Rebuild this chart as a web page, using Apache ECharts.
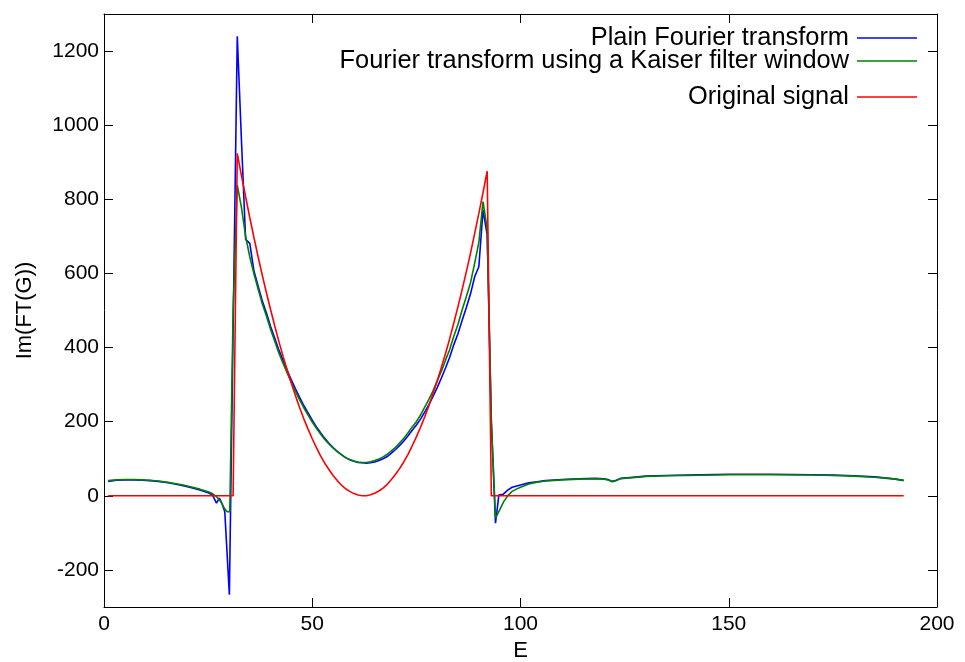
<!DOCTYPE html>
<html>
<head>
<meta charset="utf-8">
<script src="https://cdn.jsdelivr.net/npm/echarts@6/dist/echarts.min.js"></script>
<style>html,body{margin:0;padding:0;background:#fff}#c{width:965px;height:662px}</style>
</head>
<body>
<div id="c"></div>
<script>
// Series names
const seriesNames = ['Plain Fourier transform', 'Fourier transform using a Kaiser filter window', 'Original signal'];
// x-axis tick labels: 0,50,...,200 ; y-axis: -200..1200 step 200
const xTicks = [0, 50, 100, 150, 200];
const yTicks = [-200, 0, 200, 400, 600, 800, 1000, 1200];

// [E, Im(FT(G))]
const plainFT = [[1,39],[3,42],[5,43],[7,43],[9,42],[11,41],[13,39],[15,36],[17,32],[19,27],[21,22],[23,16],[25,8],[26,3],[27,-20],[27.7,-6],[28.3,-20],[29,-43],[30.1,-267],[31,450],[32,1240],[33,960],[34,692],[35,681],[36,607],[37,566],[38,526],[39,493],[40,457],[41,425],[42,393],[43,365],[44,338],[45,312],[46,288],[47,265],[48,243],[49,224],[50,204],[51,186],[52,170],[53,155],[54,142],[55,130],[56,120],[57,111],[58,103],[59,97],[60,93],[61,90],[62,89],[63,88],[64,89],[65,91],[66,95],[67,100],[68,106],[69,115],[70,125],[71,136],[72,148],[73,162],[74,177],[75,191],[76,207],[77,226],[78,246],[79,268],[80,292],[81,318],[82,345],[83,374],[84,408],[85,438],[86,474],[87,508],[88,545],[89,591],[90,618],[91,771],[92,705],[93,200],[94,-74],[94.8,2],[95.8,4],[97,16],[98,23],[100,29],[102,35],[104,38],[106,41],[110,44],[114,46],[118,47],[120,46],[121,44],[122,39],[123,42],[124,47],[127,50],[130,53],[135,55],[140,56],[150,58],[160,58],[170,57],[175,56],[180,54],[185,51],[188,48],[190,45],[192,42]];

const kaiserFT = [[1,41],[3,43],[5,44],[7,44],[9,43],[11,42],[13,40],[15,37],[17,33],[19,29],[21,24],[23,18],[25,11],[26,6],[27,-2],[28,-15],[29,-36],[29.6,-43],[30.2,-43],[31,500],[32,838],[33,778],[34,700],[35,645],[36,599],[37,558],[38,518],[39,485],[40,449],[41,417],[42,385],[43,357],[44,331],[45,305],[46,281],[47,258],[48,237],[49,218],[50,199],[51,182],[52,167],[53,152],[54,140],[55,129],[56,119],[57,111],[58,103],[59,98],[60,94],[61,91],[62,90],[63,90],[64,92],[65,95],[66,99],[67,105],[68,112],[69,121],[70,131],[71,143],[72,155],[73,170],[74,186],[75,200],[76,218],[77,239],[78,260],[79,283],[80,310],[81,336],[82,366],[83,395],[84,431],[85,463],[86,502],[87,538],[88,575],[89,628],[90,684],[91,794],[92,720],[93,200],[94,-60],[95,-38],[96,-15],[97,1],[98,12],[99,18],[100,23],[102,32],[104,37],[106,40],[110,43],[114,45],[118,46],[120,45],[121,43],[122,38],[123,41],[124,46],[127,49],[130,52],[135,54],[140,55],[150,57],[160,57],[170,56],[175,55],[180,53],[185,50],[188,47],[190,45],[192,41]];

const originalSignal = [[1,0],[31,0],[32,924],[33,864],[34,807],[35,751],[36,697],[37,645],[38,595],[39,548],[40,502],[41,458],[42,416],[43,376],[44,339],[45,303],[46,269],[47,237],[48,207],[49,180],[50,154],[51,130],[52,108],[53,88],[54,71],[55,55],[56,41],[57,29],[58,19],[59,12],[60,6],[61,2],[62,0],[63,0],[64,3],[65,7],[66,13],[67,21],[68,31],[69,44],[70,58],[71,74],[72,92],[73,112],[74,135],[75,159],[76,185],[77,213],[78,243],[79,276],[80,310],[81,346],[82,384],[83,424],[84,467],[85,511],[86,557],[87,605],[88,655],[89,708],[90,762],[91,818],[92,876],[93,0],[192,0]];

const colors = ['#0000ff', '#008000', '#ff0000'];
const FONT = 'Liberation Sans, Arial, sans-serif';

const chart = echarts.init(document.getElementById('c'), null, {renderer: 'canvas'});

function axisCommon(showLabels) {
  return {
    axisLine: {show: true, onZero: false, lineStyle: {color: '#000', width: 1}},
    axisTick: {show: true, inside: true, length: 9, lineStyle: {color: '#000', width: 1}},
    splitLine: {show: false},
    axisLabel: {show: showLabels, color: '#000', fontSize: 21, fontFamily: FONT},
  };
}

const legendFont = 25.4;
const legends = seriesNames.map((n, i) => ({
  data: [n],
  orient: 'vertical',
  right: 48,
  top: [38, 61, 97][i] - legendFont / 2,
  align: 'right',
  icon: 'rect',
  itemWidth: 60,
  itemHeight: 1.6,
  itemGap: 0,
  padding: 0,
  selectedMode: false,
  textStyle: {color: '#000', fontSize: legendFont, fontFamily: FONT, padding: [0, 3, 0, 0], lineHeight: legendFont}
}));

const option = {
  animation: false,
  backgroundColor: '#fff',
  color: colors,
  grid: {left: 104, right: 28, top: 14, bottom: 55, containLabel: false, outerBoundsMode: 'none'},
  legend: legends,
  xAxis: [
    Object.assign(axisCommon(true), {
      type: 'value', min: 0, max: 200, interval: 50, position: 'bottom',
      name: 'E', nameLocation: 'middle', nameGap: 31,
      nameTextStyle: {color: '#000', fontSize: 22, fontFamily: FONT},
      axisLabel: {show: true, color: '#000', fontSize: 21, fontFamily: FONT, margin: 7,
        formatter: v => xTicks.includes(v) ? String(v) : ''}
    }),
    Object.assign(axisCommon(false), {type: 'value', min: 0, max: 200, interval: 50, position: 'top'})
  ],
  yAxis: [
    Object.assign(axisCommon(true), {
      type: 'value', min: -300, max: 1300, splitNumber: 8, position: 'left',
      name: 'Im(FT(G))', nameLocation: 'middle', nameGap: 68,
      nameTextStyle: {color: '#000', fontSize: 22, fontFamily: FONT},
      axisLabel: {show: true, color: '#000', fontSize: 21, fontFamily: FONT, margin: 5,
        showMinLabel: false, showMaxLabel: false,
        formatter: v => yTicks.includes(v) ? String(v) : ''}
    }),
    Object.assign(axisCommon(false), {type: 'value', min: -300, max: 1300, splitNumber: 8, position: 'right'})
  ],
  series: [
    {name: seriesNames[0], type: 'line', data: plainFT, showSymbol: false, symbol: 'none',
     lineStyle: {color: colors[0], width: 1.6}, itemStyle: {color: colors[0]}, z: 2},
    {name: seriesNames[1], type: 'line', data: kaiserFT, showSymbol: false, symbol: 'none',
     lineStyle: {color: colors[1], width: 1.6}, itemStyle: {color: colors[1]}, z: 3},
    {name: seriesNames[2], type: 'line', data: originalSignal, showSymbol: false, symbol: 'none',
     lineStyle: {color: colors[2], width: 1.6}, itemStyle: {color: colors[2]}, z: 4}
  ]
};
chart.setOption(option);
</script>
</body>
</html>
